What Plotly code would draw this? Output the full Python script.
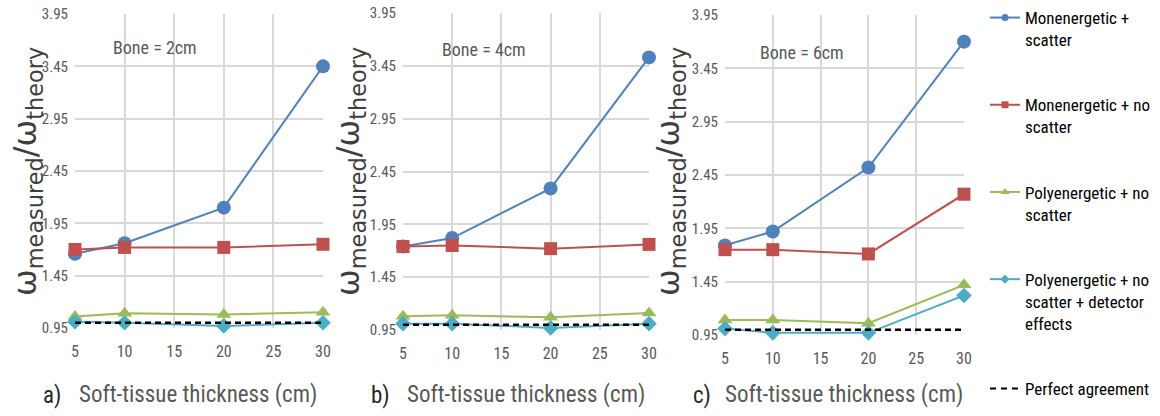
import plotly.graph_objects as go

# Soft-tissue thickness (cm)
thickness = [5, 10, 20, 30]

# omega_measured / omega_theory for each bone thickness
mono_scatter_2 = [1.66, 1.76, 2.10, 3.45]
mono_noscatter_2 = [1.70, 1.72, 1.72, 1.75]
poly_noscatter_2 = [1.06, 1.09, 1.08, 1.10]
poly_detector_2 = [1.01, 1.00, 0.97, 1.00]

mono_scatter_4 = [1.74, 1.82, 2.29, 3.53]
mono_noscatter_4 = [1.74, 1.75, 1.72, 1.76]
poly_noscatter_4 = [1.08, 1.09, 1.07, 1.11]
poly_detector_4 = [1.01, 1.01, 0.97, 1.01]

mono_scatter_6 = [1.79, 1.92, 2.52, 3.70]
mono_noscatter_6 = [1.75, 1.75, 1.71, 2.27]
poly_noscatter_6 = [1.09, 1.09, 1.06, 1.42]
poly_detector_6 = [1.01, 0.97, 0.97, 1.32]

perfect = [1.0, 1.0, 1.0, 1.0]

series_names = [
    "Monenergetic +<br>scatter",
    "Monenergetic + no<br>scatter",
    "Polyenergetic + no<br>scatter",
    "Polyenergetic + no<br>scatter + detector<br>effects",
    "Perfect agreement",
]
panel_labels = ["a)", "b)", "c)"]
bone_labels = ["Bone = 2cm", "Bone = 4cm", "Bone = 6cm"]
y_ticks = [0.95, 1.45, 1.95, 2.45, 2.95, 3.45, 3.95]
x_ticks = [5, 10, 15, 20, 25, 30]

panels = [
    [mono_scatter_2, mono_noscatter_2, poly_noscatter_2, poly_detector_2, perfect],
    [mono_scatter_4, mono_noscatter_4, poly_noscatter_4, poly_detector_4, perfect],
    [mono_scatter_6, mono_noscatter_6, poly_noscatter_6, poly_detector_6, perfect],
]

colors = ["#4f81bd", "#c0504d", "#9bbb59", "#4bacc6", "#000000"]
symbols = ["circle", "square", "triangle-up", "diamond", None]
sizes = [14, 13, 13, 12, None]
legend_sizes = [7, 7, 8, 7, None]

W, H = 1160, 416
NARROW = "Liberation Sans Narrow, Arial Narrow, Roboto Condensed, Roboto, sans-serif"
GRID = "#d9d9d9"
TICK = "#595959"
CLEAR = "rgba(0,0,0,0)"

# pixel geometry of each plot area: (left, right, top, bottom)
boxes = [(75, 323, 14, 328), (403, 649, 13, 330), (725, 964, 15, 335)]

fig = go.Figure()

for p, data in enumerate(panels):
    xa = "x" if p == 0 else f"x{p + 1}"
    ya = "y" if p == 0 else f"y{p + 1}"
    for s, vals in enumerate(data):
        if symbols[s] is None:
            fig.add_trace(go.Scatter(
                x=thickness, y=vals, mode="lines", xaxis=xa, yaxis=ya,
                line=dict(color=colors[s], width=2.5, dash="6px,4px"),
                showlegend=False, cliponaxis=False,
            ))
        else:
            fig.add_trace(go.Scatter(
                x=thickness, y=vals, mode="lines+markers", xaxis=xa, yaxis=ya,
                line=dict(color=colors[s], width=2),
                marker=dict(symbol=symbols[s], size=sizes[s], color=colors[s]),
                showlegend=False, cliponaxis=False,
            ))

# legend entries with compact symbols
for s, name in enumerate(series_names):
    if symbols[s] is None:
        fig.add_trace(go.Scatter(
            x=[None], y=[None], mode="lines", name=name, legendgroup=str(s),
            line=dict(color=colors[s], width=2, dash="6px,5px"),
        ))
    else:
        fig.add_trace(go.Scatter(
            x=[None], y=[None], mode="lines+markers", name=name, legendgroup=str(s),
            line=dict(color=colors[s], width=2),
            marker=dict(symbol=symbols[s], size=legend_sizes[s], color=colors[s]),
        ))

layout = dict(
    width=W, height=H,
    margin=dict(l=0, r=0, t=0, b=0, autoexpand=False),
    paper_bgcolor="white", plot_bgcolor="white",
    showlegend=True,
    legend=dict(
        x=985 / W, y=1.0, xanchor="left", yanchor="top",
        font=dict(family=NARROW, size=17, color="#000000"),
        valign="top", tracegroupgap=40, bgcolor=CLEAR,
        itemwidth=30, maxheight=1.0,
    ),
)

annotations = []
for p, (l, r, t, b) in enumerate(boxes):
    xk = "xaxis" if p == 0 else f"xaxis{p + 1}"
    yk = "yaxis" if p == 0 else f"yaxis{p + 1}"
    ya = "y" if p == 0 else f"y{p + 1}"
    layout[xk] = dict(
        domain=[l / W, r / W], range=[5, 30], anchor=ya,
        tickvals=x_ticks, showgrid=True, gridcolor=GRID, gridwidth=1.5,
        zeroline=False, showline=False,
        ticks="outside", ticklen=9, tickcolor=CLEAR,
        tickfont=dict(family=NARROW, size=16, color=TICK),
    )
    layout[yk] = dict(
        domain=[1 - b / H, 1 - t / H], range=[0.95, 3.95],
        anchor="x" if p == 0 else f"x{p + 1}",
        tickvals=y_ticks, tickformat=".2f", showgrid=True, gridcolor=GRID, gridwidth=1.5,
        zeroline=False, showline=False,
        ticks="outside", ticklen=3, tickcolor=CLEAR,
        tickfont=dict(family=NARROW, size=15, color=TICK),
    )

titles_x = [27, 350, 670]
xtitle_x = [198, 526, 844]
plabel_x = [52, 380, 702]
bone_pos = [(155, 47), (484, 49), (802, 52)]
for p in range(3):
    annotations.append(dict(
        text="ω<sub>measured</sub>/ω<sub>theory</sub>", textangle=-90,
        x=titles_x[p] / W, y=1 - 172 / H, xref="paper", yref="paper",
        xanchor="center", yanchor="middle", showarrow=False,
        font=dict(family="DejaVu Sans", size=32, color="#3f3f3f"),
    ))
    annotations.append(dict(
        text="Soft-tissue thickness (cm)",
        x=xtitle_x[p] / W, y=1 - 394 / H, xref="paper", yref="paper",
        xanchor="center", yanchor="middle", showarrow=False,
        font=dict(family=NARROW, size=23, color=TICK),
    ))
    annotations.append(dict(
        text=panel_labels[p],
        x=plabel_x[p] / W, y=1 - 395 / H, xref="paper", yref="paper",
        xanchor="center", yanchor="middle", showarrow=False,
        font=dict(family=NARROW, size=23, color="#262626"),
    ))
    annotations.append(dict(
        text=bone_labels[p],
        x=bone_pos[p][0] / W, y=1 - bone_pos[p][1] / H, xref="paper", yref="paper",
        xanchor="center", yanchor="middle", showarrow=False,
        font=dict(family=NARROW, size=18, color=TICK),
    ))

layout["annotations"] = annotations
fig.update_layout(**layout)
fig.write_html("out.html")
